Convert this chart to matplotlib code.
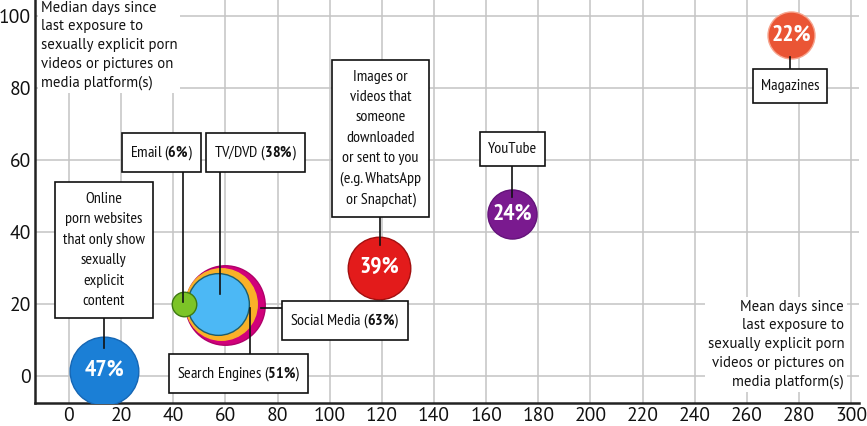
import matplotlib
matplotlib.use("Agg")
import matplotlib.pyplot as plt
from matplotlib import font_manager
from matplotlib.patches import Rectangle

# data
platforms = [
    "Online\nporn websites\nthat only show\nsexually\nexplicit\ncontent",
    "Email",
    "TV/DVD",
    "Search Engines",
    "Social Media",
    "Images or\nvideos that\nsomeone\ndownloaded\nor sent to you\n(e.g. WhatsApp\nor Snapchat)",
    "YouTube",
    "Magazines",
]
mean_days = [13.5, 44, 57, 58.5, 60, 119, 170, 277]
median_days = [1.5, 20, 20, 20, 19.7, 30, 45, 94.7]
share_pct = [47, 6, 38, 51, 63, 39, 24, 22]
pct_in_box = [False, True, True, True, True, False, False, False]

x_ticks = list(range(0, 301, 20))
y_ticks = list(range(0, 101, 20))

# styling
colors = ["#1b7fd6", "#7cc427", "#4cb8f5", "#f9b128", "#d1007a",
          "#e31b1b", "#7a1a8f", "#ea5535"]
edges = ["#1566b4", "#3d7a12", "#1e5d6b", "#f9b128", "#b0006a",
         "#a30f0f", "#64137a", "#f7a58f"]

# label box centre, connector start and end (data units)
box_xy = [(13.4, 35), (35.6, 62), (71.6, 62), (65, 0.8), (106, 15.3),
          (119.5, 66), (170, 63), (276.6, 80.5)]
conn = [((13.4, 35), (13.4, 7.8)),
        ((43.7, 62), (43.7, 20.5)),
        ((57.8, 62), (57.8, 22.8)),
        ((69.4, 0.8), (69.4, 19)),
        ((106, 18.9), (73.6, 18.9)),
        ((119.2, 66), (119.2, 36.4)),
        ((170, 63), (170, 49.7)),
        ((276.6, 80.5), (276.6, 88.6))]
pad_x, pad_y = 8, 10  # box padding in pixels


def pick_font(names):
    have = {f.name for f in font_manager.fontManager.ttflist}
    for n in names:
        if n in have:
            return n
    return "DejaVu Sans"


label_font = pick_font(["PT Sans Narrow", "Open Sans Condensed",
                        "Roboto Condensed", "Asap Condensed", "Roboto"])
body_font = pick_font(["PT Sans", "Lato", "Open Sans", "Noto Sans"])

plt.rcParams["mathtext.fontset"] = "custom"
plt.rcParams["mathtext.rm"] = label_font
plt.rcParams["mathtext.bf"] = label_font + ":bold"

fig = plt.figure(figsize=(8.67, 4.26), dpi=100)
ax = fig.add_axes([35 / 867, 23 / 426, (859 - 35) / 867, 403 / 426])
ax.set_xlim(-13, 303)
ax.set_ylim(-7.5, 104.4)

ax.set_xticks(x_ticks)
ax.set_yticks(y_ticks)
ax.tick_params(length=0, labelsize=14, pad=3, colors="#111111")
for lbl in ax.get_xticklabels() + ax.get_yticklabels():
    lbl.set_family(body_font)
ax.grid(True, color="#c4c4c4", linewidth=1.1)
ax.set_axisbelow(True)
for side in ["top", "right"]:
    ax.spines[side].set_visible(False)
for side in ["left", "bottom"]:
    ax.spines[side].set_linewidth(1.8)
    ax.spines[side].set_color("#222222")

# bubbles, biggest first so small ones sit on top
order = sorted(range(len(share_pct)), key=lambda i: -share_pct[i])
for z, i in enumerate(order):
    ax.scatter(mean_days[i], median_days[i], s=52 * share_pct[i],
               color=colors[i], edgecolors=edges[i], linewidths=1.0,
               zorder=3 + z * 0.01)
    if not pct_in_box[i]:
        ax.text(mean_days[i], median_days[i], f"{share_pct[i]}%",
                color="white", fontsize=17, fontweight="bold",
                family=label_font, ha="center", va="center", zorder=6)

# connectors and boxed labels
renderer = fig.canvas.get_renderer()
inv = ax.transData.inverted()
for i, name in enumerate(platforms):
    (x0, y0), (x1, y1) = conn[i]
    ax.plot([x0, x1], [y0, y1], color="#111111", linewidth=1.2, zorder=5)
    text = name
    if pct_in_box[i]:
        text = name + r" ($\mathbf{" + str(share_pct[i]) + r"\%}$)"
    t = ax.text(box_xy[i][0], box_xy[i][1], text, fontsize=11.5,
                family=label_font, ha="center", va="center", zorder=8,
                linespacing=1.58, color="#111111")
    bb = t.get_window_extent(renderer)
    (bx0, by0) = inv.transform((bb.x0 - pad_x, bb.y0 - pad_y))
    (bx1, by1) = inv.transform((bb.x1 + pad_x, bb.y1 + pad_y))
    ax.add_patch(Rectangle((bx0, by0), bx1 - bx0, by1 - by0,
                           facecolor="white", edgecolor="#111111",
                           linewidth=1.2, zorder=7))

ax.text(0.007, 0.998,
        "Median days since\nlast exposure to\nsexually explicit porn\n"
        "videos or pictures on\nmedia platform(s)",
        transform=ax.transAxes, ha="left", va="top", fontsize=10.6,
        family=body_font, linespacing=1.42, color="#111111", zorder=8,
        bbox=dict(boxstyle="square,pad=0.2", facecolor="white",
                  edgecolor="none"))
ax.text(0.982, 0.035,
        "Mean days since\nlast exposure to\nsexually explicit porn\n"
        "videos or pictures on\nmedia platform(s)",
        transform=ax.transAxes, ha="right", va="bottom", fontsize=10.6,
        family=body_font, linespacing=1.42, color="#111111", zorder=8,
        bbox=dict(boxstyle="square,pad=0.2", facecolor="white",
                  edgecolor="none"))

fig.savefig("out.png", dpi=100)
